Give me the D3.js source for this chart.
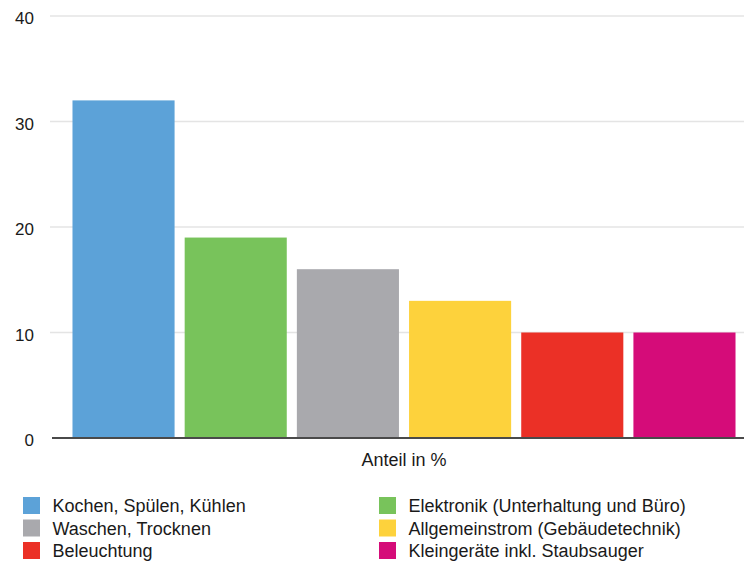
<!DOCTYPE html>
<html><head><meta charset="utf-8">
<script src="https://cdn.jsdelivr.net/npm/d3@7"></script>
<style>body{margin:0;background:#fff}svg{display:block}text{font-family:"Liberation Sans",Arial,Helvetica,sans-serif;fill:#1a1a1a}</style>
</head><body><svg id="c" width="744" height="563"></svg>
<script>
const categories = ["Kochen, Spülen, Kühlen","Elektronik (Unterhaltung und Büro)","Waschen, Trocknen","Allgemeinstrom (Gebäudetechnik)","Beleuchtung","Kleingeräte inkl. Staubsauger"];
const values = [32, 19, 16, 13, 10, 10];
const colors = ["#5ca2d8","#78c35b","#a9a9ad","#fdd23c","#eb3026","#d50c79"];
const yTicks = [0, 10, 20, 30, 40];
const axisTitle = "Anteil in %";
const legendOrder = [0, 2, 4, 1, 3, 5];

const svg = d3.select("#c");
const y = d3.scaleLinear().domain([0, 40]).range([438, 16]);
const x = d3.scaleBand().domain(categories).range([68, 740]).paddingInner(0.09).paddingOuter(0.04);

svg.append("g").selectAll("line").data(yTicks.filter(d => d > 0)).join("line")
  .attr("x1", 50).attr("x2", 744).attr("y1", d => y(d)).attr("y2", d => y(d))
  .attr("stroke", "#e4e4e4").attr("stroke-width", 1.5);

svg.append("g").selectAll("text").data(yTicks).join("text")
  .attr("x", 34).attr("y", d => y(d) + 2).attr("dy", "0.36em")
  .attr("text-anchor", "end").attr("font-size", 17).text(d => d);

svg.append("g").selectAll("rect").data(values).join("rect")
  .attr("x", (d, i) => x(categories[i])).attr("width", x.bandwidth())
  .attr("y", d => y(d)).attr("height", d => y(0) - y(d))
  .attr("fill", (d, i) => colors[i]);

svg.append("line").attr("x1", 52).attr("x2", 744).attr("y1", y(0)).attr("y2", y(0))
  .attr("stroke", "#4a4a4a").attr("stroke-width", 2);

svg.append("text").attr("x", 404).attr("y", 466).attr("text-anchor", "middle")
  .attr("font-size", 18).text(axisTitle);

const lg = svg.append("g");
legendOrder.forEach((ci, k) => {
  const col = Math.floor(k / 3), row = k % 3;
  const lx = col === 0 ? 23 : 379, ly = 505.5 + row * 22.5;
  lg.append("rect").attr("x", lx).attr("y", ly - 8.5).attr("width", 17).attr("height", 17).attr("fill", colors[ci]);
  lg.append("text").attr("x", lx + 29.5).attr("y", ly + 0.5).attr("dy", "0.36em").attr("font-size", 18).text(categories[ci]);
});
</script></body></html>
